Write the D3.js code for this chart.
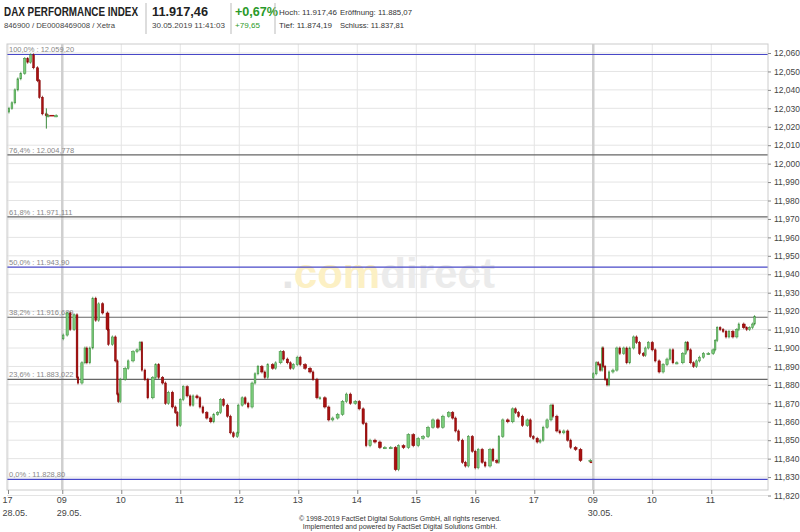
<!DOCTYPE html>
<html><head><meta charset="utf-8">
<script src="https://cdn.jsdelivr.net/npm/d3@7"></script>
<style>body{margin:0;background:#fff}</style>
</head><body><div id="plot_div"></div>
<script>
const width = 800, height = 532;
const plot = {left: 7, right: 768, top: 44, bottom: 490};

// minutes after session start, close price
const d28_min   = [1, 4, 7, 10, 13, 17, 20, 23, 26, 30, 32, 35, 39, 41, 49];
const d28_close = [12030, 12033, 12040, 12046, 12049, 12057, 12055, 12059, 12052, 12045, 12036, 12027, 12026, 12026, 12026];

const d29_min = [1,5,8,12,15,16,20,23,25,28,31,34,37,41,46,47,51,54,56,57,59,64,67,72,76,79,81,84,87,92,95,98,102,105,108,112,115,117,120,123,127,130,133,137,140,143,147,151,154,158,161,164,168,171,174,178,179,183,186,189,193,196,199,203,206,209,214,217,222,225,229,232,235,239,242,247,252,255,259,262,267,271,275,280,285,289,293,298,302,306,309,313,318,323,328,334,339,342,347,352,357,362,367,372,377,382,387,393,397,400,403,407,410,413,417,420,423,427,430,435,438,442,444,448,453,458,461,464,468,473,476,479,483,486,489,493,497,499,503,506,510,514,517,522,527,537];
const d29_close = [11907,11919,11910,11918,11884,11881,11892,11900,11892,11900,11927,11915,11924,11919,11910,11902,11906,11893,11875,11871,11883,11889,11893,11898,11899,11903,11888,11883,11873,11884,11891,11884,11881,11870,11876,11868,11865,11858,11872,11879,11874,11869,11874,11873,11868,11865,11862,11860,11864,11865,11872,11869,11863,11854,11852,11854,11869,11873,11870,11868,11881,11886,11890,11887,11884,11891,11889,11892,11898,11894,11892,11889,11891,11895,11891,11889,11887,11883,11873,11873,11868,11861,11862,11864,11871,11875,11870,11871,11867,11859,11847,11850,11849,11846,11846,11846,11834,11847,11846,11853,11847,11851,11852,11857,11861,11857,11863,11865,11862,11855,11850,11838,11836,11852,11844,11835,11845,11838,11836,11845,11839,11838,11852,11861,11860,11867,11865,11863,11858,11861,11852,11851,11849,11850,11857,11861,11869,11863,11855,11854,11855,11850,11846,11845,11839,11839];

const d30_min = [0,3,5,7,9,10,12,14,16,20,24,27,31,34,37,41,44,47,51,53,56,60,63,67,71,75,78,81,85,91,94,96,99,102,105,108,112,117,122,124,126,129,132,135,138,142,146,148,153,156,159,162,164];
const d30_close = [11886,11892,11891,11888,11900,11890,11883,11880,11887,11888,11900,11897,11900,11892,11900,11906,11903,11897,11896,11900,11903,11899,11893,11887,11891,11894,11899,11892,11892,11897,11903,11899,11892,11890,11893,11895,11897,11897,11899,11904,11911,11910,11909,11906,11909,11906,11910,11913,11911,11910,11911,11913,11917];

// session start in hours on the continuous axis
const sessions = [
  {start: 0,    min: d28_min, close: d28_close},
  {start: 0.92, min: d29_min, close: d29_close},
  {start: 9.92, min: d30_min, close: d30_close}
];

const hour_ticks = [0, 0.92, 1.92, 2.92, 3.92, 4.92, 5.92, 6.92, 7.92, 8.92, 9.92, 10.92, 11.92];
const hour_labels = ["17", "09", "10", "11", "12", "13", "14", "15", "16", "17", "09", "10", "11"];
const date_labels = {0: "28.05.", 1: "29.05.", 10: "30.05."};
const day_lines = [0.92, 9.92];

const fib = [
  {label: "100,0% : 12.059,20", v: 12059.20, c: "#4848c8"},
  {label: "76,4% : 12.004,778", v: 12004.778, c: "#666"},
  {label: "61,8% : 11.971,111", v: 11971.111, c: "#666"},
  {label: "50,0% : 11.943,90",  v: 11943.90, c: "#4848c8"},
  {label: "38,2% : 11.916,689", v: 11916.689, c: "#666"},
  {label: "23,6% : 11.883,022", v: 11883.022, c: "#666"},
  {label: "0,0% : 11.828,80",   v: 11828.80, c: "#4848c8"}
];

const fmt = d3.formatLocale({decimal: ",", thousands: ".", grouping: [3], currency: ["", ""]}).format(",.3f");

const svg = d3.create("svg")
    .attr("width", width).attr("height", height)
    .attr("viewBox", [0, 0, width, height])
    .style("font-family", "Liberation Sans, Arial, sans-serif");

const x = d3.scaleLinear().domain([0, 1]).range([8, 67]);
const y = d3.scaleLinear().domain([11820, 12060]).range([495.5, 53]);

// header
const hdr = svg.append("g");
function htext(px, py, size, txt, len, col, bold) {
  hdr.append("text").attr("x", px).attr("y", py).attr("font-size", size)
     .attr("font-weight", bold ? "bold" : "normal").attr("fill", col)
     .attr("textLength", len).attr("lengthAdjust", "spacingAndGlyphs").text(txt);
}
htext(4, 16, 12, "DAX PERFORMANCE INDEX", 134, "#222", true);
htext(4, 28, 8, "846900 / DE0008469008 / Xetra", 111, "#444");
htext(152, 16, 12, "11.917,46", 56, "#222", true);
htext(152, 28, 8, "30.05.2019 11:41:03", 73, "#444");
htext(235, 16, 12, "+0,67%", 43, "#2a9a2a", true);
htext(235, 28, 8, "+79,65", 25, "#2a9a2a");
htext(279, 15, 8, "Hoch: 11.917,46", 58, "#333");
htext(340, 15, 8, "Eröffnung: 11.885,07", 72, "#333");
htext(279, 28, 8, "Tief: 11.874,19", 53, "#333");
htext(340, 28, 8, "Schluss: 11.837,81", 64, "#333");
[146, 231, 275].forEach(px => hdr.append("line").attr("x1", px).attr("x2", px).attr("y1", 3).attr("y2", 34).attr("stroke", "#bbb"));

// grid
const grid = svg.append("g");
grid.selectAll("line.h").data(d3.range(11820, 12061, 10)).join("line")
    .attr("x1", plot.left).attr("x2", plot.right)
    .attr("y1", d => y(d)).attr("y2", d => y(d))
    .attr("stroke", "#e4e4e4");
grid.selectAll("line.v").data(hour_ticks).join("line")
    .attr("x1", d => x(d)).attr("x2", d => x(d))
    .attr("y1", plot.top).attr("y2", plot.bottom)
    .attr("stroke", d => day_lines.includes(d) ? "#cfcfcf" : "#e4e4e4")
    .attr("stroke-width", d => day_lines.includes(d) ? 2.5 : 1);

// watermark
const wm = svg.append("text").attr("x", 282).attr("y", 288)
    .attr("font-size", 42).attr("font-weight", "bold").attr("font-family", "Liberation Sans")
    .attr("textLength", 213).attr("lengthAdjust", "spacingAndGlyphs");
wm.append("tspan").attr("fill", "#e6e6e6").text(".");
wm.append("tspan").attr("fill", "#fcf0c4").text("com");
wm.append("tspan").attr("fill", "#ebebeb").text("direct");

// fib lines
fib.forEach(f => {
  svg.append("line").attr("x1", plot.left).attr("x2", plot.right)
     .attr("y1", y(f.v)).attr("y2", y(f.v)).attr("stroke", f.c).attr("stroke-width", 1.2);
  svg.append("text").attr("x", 9).attr("y", y(f.v) - 2).attr("font-size", 7.5).attr("fill", "#888").text(f.label);
});

// candles
const candles = svg.append("g");
sessions.forEach(s => {
  s.close.forEach((c, i) => {
    const o = i === 0 ? c - 2 : s.close[i - 1];
    const t = s.start + s.min[i] / 60;
    const t0 = i === 0 ? t - 2 / 60 : s.start + s.min[i - 1] / 60;
    const w = Math.min(3, Math.max(1.5, (x(t) - x(t0)) * 0.6));
    const up = c >= o;
    candles.append("line")
      .attr("x1", x(t)).attr("x2", x(t))
      .attr("y1", y(Math.max(o, c)) - 1.5).attr("y2", y(Math.min(o, c)) + 1.5)
      .attr("stroke", up ? "#3a8a3a" : "#800000").attr("stroke-width", 0.7);
    candles.append("rect")
      .attr("x", x(t) - w / 2).attr("width", w)
      .attr("y", y(Math.max(o, c))).attr("height", Math.max(1.2, Math.abs(y(o) - y(c))))
      .attr("fill", up ? "#7acb7a" : "#a81010")
      .attr("stroke", up ? "#3a8a3a" : "#800000").attr("stroke-width", 0.5);
  });
});
// post-close flat marks
candles.append("line").attr("x1", x(0.7)).attr("x2", x(0.78)).attr("y1", y(12026)).attr("y2", y(12026)).attr("stroke", "#a81010").attr("stroke-width", 1.5);
candles.append("line").attr("x1", x(0.65)).attr("x2", x(0.65)).attr("y1", y(12030)).attr("y2", y(12019)).attr("stroke", "#3a8a3a");
candles.append("line").attr("x1", x(9.86)).attr("x2", x(9.9)).attr("y1", y(11838)).attr("y2", y(11838)).attr("stroke", "#a81010").attr("stroke-width", 1.5);

// frame
svg.append("rect").attr("x", plot.left).attr("y", plot.top).attr("width", plot.right - plot.left).attr("height", plot.bottom - plot.top)
   .attr("fill", "none").attr("stroke", "#ccc");

// right axis
const yaxis = svg.append("g").attr("transform", `translate(${plot.right},0)`)
   .call(d3.axisRight(y).tickValues(d3.range(11820, 12061, 10)).tickFormat(d => fmt(d / 1000)).tickSize(3));
yaxis.select(".domain").remove();
yaxis.selectAll("text").attr("font-size", 8.5).attr("fill", "#444").attr("font-family", "Liberation Sans, Arial");
yaxis.selectAll("line").attr("stroke", "#888");

// bottom axis
const xaxis = svg.append("g").attr("transform", `translate(0,${plot.bottom})`)
   .call(d3.axisBottom(x).tickValues(hour_ticks).tickFormat((d, i) => hour_labels[i]).tickSize(4));
xaxis.select(".domain").remove();
xaxis.selectAll("line").attr("stroke", "#888");
xaxis.selectAll("text").attr("font-size", 9).attr("fill", "#444").attr("text-anchor", "start").attr("dx", -6)
   .attr("font-family", "Liberation Sans, Arial");
xaxis.selectAll(".tick").filter((d, i) => date_labels[i]).append("text")
   .attr("y", 26).attr("dx", -6).attr("font-size", 9).attr("fill", "#444").attr("text-anchor", "start")
   .text(d => date_labels[hour_ticks.indexOf(d)]);

svg.append("text").attr("x", 400).attr("y", 521).attr("text-anchor", "middle").attr("font-size", 7).attr("fill", "#333")
   .text("© 1998-2019 FactSet Digital Solutions GmbH, all rights reserved.");
svg.append("text").attr("x", 400).attr("y", 529).attr("text-anchor", "middle").attr("font-size", 7).attr("fill", "#333")
   .text("Implemented and powered by FactSet Digital Solutions GmbH.");

d3.select("#plot_div").append(() => svg.node());
</script></body></html>
